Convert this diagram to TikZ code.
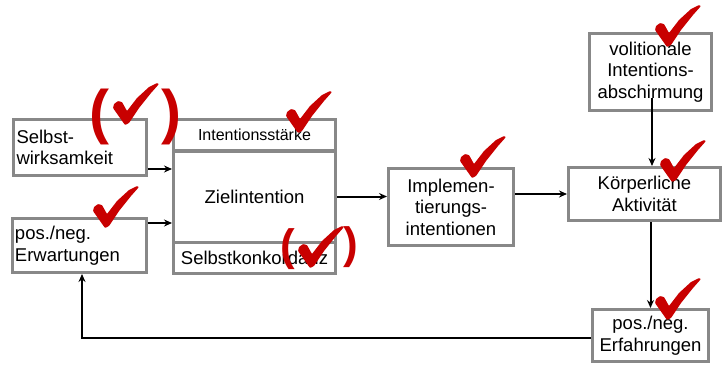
\documentclass[tikz,border=0pt]{standalone}
\usepackage{fontspec}
\setmainfont{Liberation Sans}
\usetikzlibrary{arrows.meta}
\definecolor{boxgray}{RGB}{136,136,136}
\definecolor{tickred}{RGB}{200,0,0}
\begin{document}
\begin{tikzpicture}[x=1pt,y=-1pt,
  box/.style={draw=boxgray,line width=3pt,fill=white,inner sep=0pt,align=center,
    font=\fontsize{18.5}{21.5}\selectfont},
  leftbox/.style={box,align=left,inner xsep=3pt},
  arr/.style={line width=2pt,-{Stealth[length=8pt,width=7pt]}},
  checkmk/.pic={\fill[tickred,rounded corners=0.8pt]
    (0,0) -- (-12,-17) -- (-11,-21) -- (-7,-24) -- (-3,-23) -- (2,-14)
    -- (12,-27) -- (24,-38) -- (32,-42) -- (34,-41) -- (26,-32) -- (14,-17)
    -- (4,-2) -- cycle;},
  paren/.style={text=tickred,inner sep=0pt}
]
\useasboundingbox (0,0) rectangle (726,365);

% boxes
\node[leftbox,text width=127pt,minimum height=56pt] (sw) at (80,147.5) {Selbst-\\wirksamkeit};
\node[leftbox,text width=128pt,minimum height=54pt] (ew) at (79,245.5) {pos./neg.\\Erwartungen};
\node[box,minimum width=162pt,minimum height=31.5pt,font=\fontsize{16}{19}\selectfont] (is) at (254.5,135) {Intentionsstärke};
\node[box,minimum width=162pt,minimum height=91pt] (zi) at (254.5,196.5) {Zielintention};
\node[box,minimum width=162pt,minimum height=31.5pt] (sk) at (254.5,257.8) {Selbstkonkordanz};
\node[box,minimum width=125pt,minimum height=77pt] (im) at (451,207) {Implemen-\\tierungs-\\intentionen};
\node[box,minimum width=152pt,minimum height=53pt] (ka) at (644.5,194) {Körperliche\\Aktivität};
\node[box,minimum width=122pt,minimum height=77pt] (vi) at (650.5,72) {volitionale\\Intentions-\\abschirmung};
\node[box,minimum width=116pt,minimum height=52pt] (ef) at (650.5,335.5) {pos./neg.\\Erfahrungen};

% connectors
\coordinate (a1) at ([yshift=8pt]sw.south east);
\draw[arr] (a1) -- (a1 -| is.west);
\coordinate (a2) at ([yshift=-6pt]ew.north east);
\draw[arr] (a2) -- (a2 -| is.west);
\draw[arr] (zi.east) -- (zi.east -| im.west);
\draw[arr] (im.east |- ka.west) -- (ka.west);
\coordinate (v1) at ([xshift=1.5pt,yshift=14pt]vi.south);
\draw[arr] (v1) -- (v1 |- ka.north);
\draw[arr] (ef.north |- ka.south) -- (ef.north);
\draw[arr] ([yshift=-2.5pt]ef.west) -| ([xshift=3pt]ew.south);

% red check marks
\pic at (125,125) {checkmk};
\node[paren,font=\fontsize{60}{60}\selectfont\bfseries] (p1) at (99.5,116.5) {(};
\node[paren,font=\fontsize{60}{60}\selectfont\bfseries] (p2) at (171,116.5) {)};
\pic at (298,133) {checkmk};
\pic at (105,228) {checkmk};
\pic at (310,268) {checkmk};
\node[paren,font=\fontsize{44}{44}\selectfont\bfseries] (p3) at (288,249.5) {(};
\node[paren,font=\fontsize{44}{44}\selectfont\bfseries] (p4) at (351,247) {)};
\pic at (472,178) {checkmk};
\pic at (667,47) {checkmk};
\pic at (672,182) {checkmk};
\pic at (667,320) {checkmk};
\end{tikzpicture}
\end{document}
